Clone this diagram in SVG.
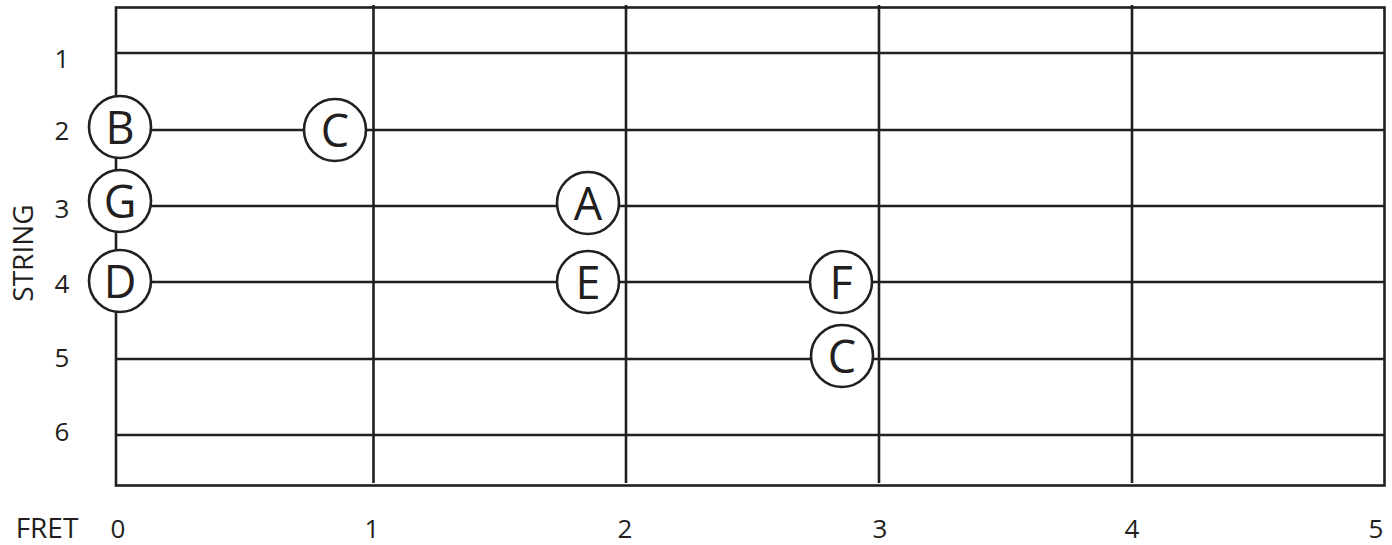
<svg xmlns="http://www.w3.org/2000/svg" width="1392" height="545" viewBox="0 0 1392 545">
<style>
.ln{stroke:#231f20;stroke-width:2.6;fill:none}
.nd circle{fill:#fff;stroke:#231f20;stroke-width:2.6}
.nd text{font-family:"Open Sans","Liberation Sans",sans-serif;font-size:45px;fill:#231f20;text-anchor:middle}
.lb{font-family:"Open Sans","Liberation Sans",sans-serif;font-size:26px;fill:#231f20;text-anchor:middle}
.lw{font-size:28px}
</style>
<rect width="1392" height="545" fill="#fff"/>
<g id="connectors">
<rect class="ln" x="116" y="7.5" width="1268.5" height="478"/>
<line class="ln" x1="116" y1="53" x2="1384.5" y2="53"/>
<line class="ln" x1="116" y1="130" x2="1384.5" y2="130"/>
<line class="ln" x1="116" y1="206" x2="1384.5" y2="206"/>
<line class="ln" x1="116" y1="282" x2="1384.5" y2="282"/>
<line class="ln" x1="116" y1="359" x2="1384.5" y2="359"/>
<line class="ln" x1="116" y1="435" x2="1384.5" y2="435"/>
<line class="ln" x1="373.5" y1="5" x2="373.5" y2="483"/>
<line class="ln" x1="626" y1="5" x2="626" y2="483"/>
<line class="ln" x1="879" y1="5" x2="879" y2="483"/>
<line class="ln" x1="1132" y1="5" x2="1132" y2="483"/>
</g>
<g id="labels">
<text class="lb" x="62" y="68">1</text>
<text class="lb" x="62" y="140">2</text>
<text class="lb" x="62" y="218">3</text>
<text class="lb" x="62" y="293">4</text>
<text class="lb" x="62" y="367">5</text>
<text class="lb" x="62" y="441">6</text>
<text class="lb lw" transform="translate(33,253) rotate(-90)">STRING</text>
<text class="lb lw" x="47" y="538">FRET</text>
<text class="lb" x="118" y="538">0</text>
<text class="lb" x="372" y="538">1</text>
<text class="lb" x="625" y="538">2</text>
<text class="lb" x="880" y="538">3</text>
<text class="lb" x="1132" y="538">4</text>
<text class="lb" x="1376" y="538">5</text>
</g>
<g id="node-B" class="nd"><circle cx="120" cy="127" r="31"/><text x="120" y="144">B</text></g>
<g id="node-C1" class="nd"><circle cx="335" cy="130" r="31"/><text x="335" y="147">C</text></g>
<g id="node-G" class="nd"><circle cx="120" cy="201" r="31"/><text x="120" y="218">G</text></g>
<g id="node-A" class="nd"><circle cx="588" cy="203" r="31"/><text x="588" y="220">A</text></g>
<g id="node-D" class="nd"><circle cx="120" cy="281" r="31"/><text x="120" y="298">D</text></g>
<g id="node-E" class="nd"><circle cx="588" cy="282" r="31"/><text x="588" y="299">E</text></g>
<g id="node-F" class="nd"><circle cx="841" cy="282" r="31"/><text x="841" y="299">F</text></g>
<g id="node-C2" class="nd"><circle cx="842" cy="356" r="31"/><text x="842" y="373">C</text></g>
</svg>
